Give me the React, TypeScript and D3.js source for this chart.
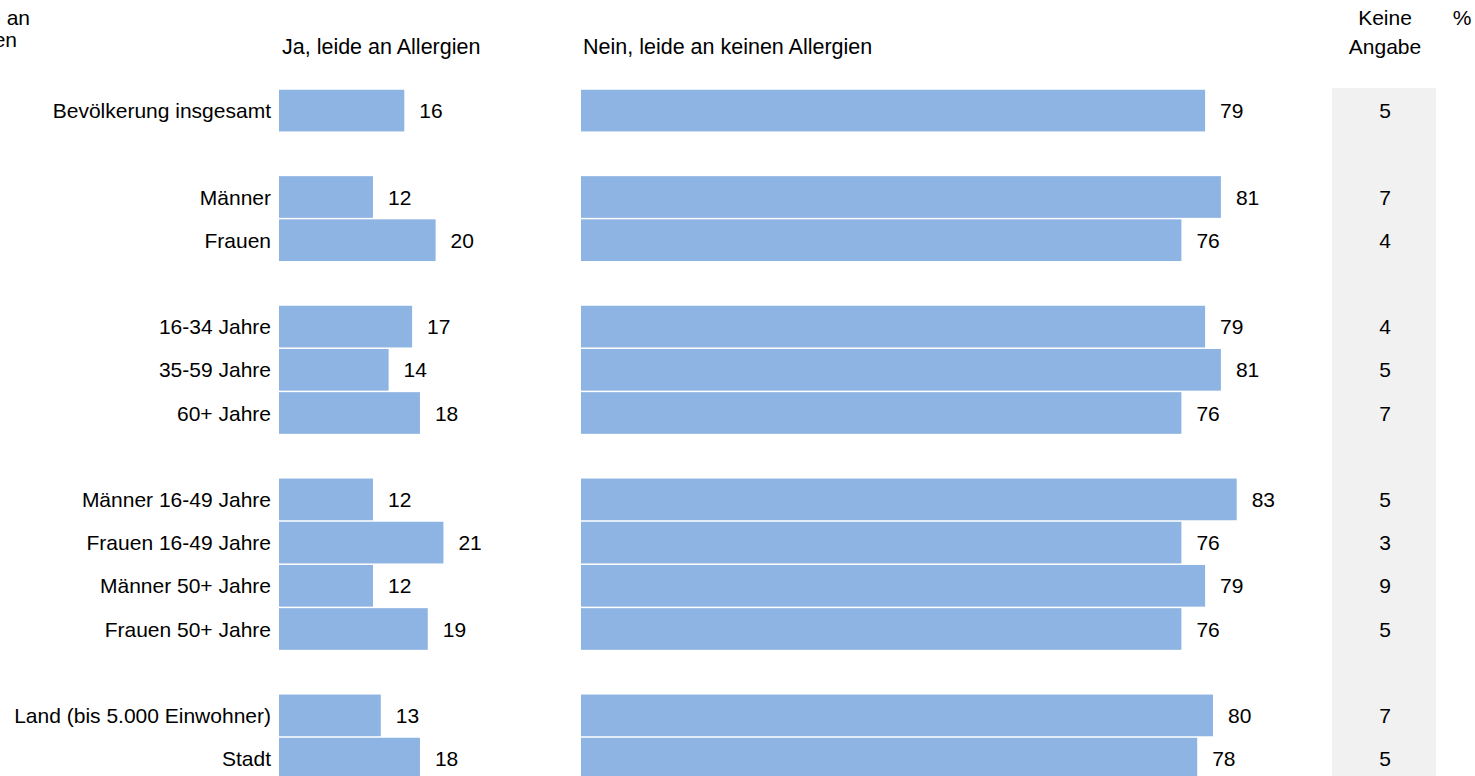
import React from "react";
import * as d3 from "d3";

// groups of rows, an empty slot is left between groups
const groups: string[][] = [
  ["Bevölkerung insgesamt"],
  ["Männer", "Frauen"],
  ["16-34 Jahre", "35-59 Jahre", "60+ Jahre"],
  ["Männer 16-49 Jahre", "Frauen 16-49 Jahre", "Männer 50+ Jahre", "Frauen 50+ Jahre"],
  ["Land (bis 5.000 Einwohner)", "Stadt"],
];
const jaValues = [16, 12, 20, 17, 14, 18, 12, 21, 12, 19, 13, 18];
const neinValues = [79, 81, 76, 79, 81, 76, 83, 76, 79, 76, 80, 78];
const keineValues = [5, 7, 4, 4, 5, 7, 5, 3, 9, 5, 7, 5];

const jaTitle = "Ja, leide an Allergien";
const neinTitle = "Nein, leide an keinen Allergien";
const keineTitle = ["Keine", "Angabe"];
const cornerTitle = ["Leiden Sie an", "Allergien"];

const W = 1475;
const H = 776;
const font = "'Liberation Sans', Arial, sans-serif";
const barColor = "#8EB4E3";

export default function App() {
  // build rows with slot index
  const rows: { label: string; slot: number }[] = [];
  let slot = 0;
  groups.forEach((g, gi) => {
    g.forEach((label) => {
      rows.push({ label, slot });
      slot++;
    });
    if (gi < groups.length - 1) slot++;
  });
  const nSlots = slot;

  const y = d3
    .scaleBand<number>()
    .domain(d3.range(nSlots))
    .range([89, 89 + nSlots * 43.2])
    .paddingInner(0.035)
    .paddingOuter(0.0175);

  const xJa = d3.scaleLinear().domain([0, 100]).range([279, 1062]);
  const xNein = d3.scaleLinear().domain([0, 100]).range([581, 1371]);
  const bw = y.bandwidth();

  return (
    <svg
      width={W}
      height={H}
      style={{ position: "absolute", left: 0, top: 0 }}
      fontFamily={font}
      fontSize={21}
    >
      <rect x={0} y={0} width={W} height={H} fill="#fff" />

      {/* corner title (cut off at left, as in the source) */}
      <text x={30} y={25} textAnchor="end">
        {cornerTitle[0]}
      </text>
      <text x={17} y={47} textAnchor="end">
        {cornerTitle[1]}
      </text>

      {/* column headers */}
      <text x={xJa(0) + 3} y={54} fontSize={21.5}>
        {jaTitle}
      </text>
      <text x={xNein(0) + 2} y={54} fontSize={21.5}>
        {neinTitle}
      </text>
      <text x={1385} y={25} textAnchor="middle">
        {keineTitle[0]}
      </text>
      <text x={1385} y={54} textAnchor="middle">
        {keineTitle[1]}
      </text>
      <text x={1462} y={25} textAnchor="middle">
        %
      </text>

      {/* keine angabe background */}
      <rect x={1332} y={88} width={104} height={H - 88} fill="#F1F1F1" />

      {rows.map((r, i) => {
        const y0 = y(r.slot)!;
        const cy = y0 + bw / 2 + 2;
        return (
          <g key={i}>
            <text x={271} y={cy} textAnchor="end" dominantBaseline="middle">
              {r.label}
            </text>
            <rect
              x={xJa(0)}
              y={y0}
              width={xJa(jaValues[i]) - xJa(0)}
              height={bw}
              fill={barColor}
            />
            <text x={xJa(jaValues[i]) + 15} y={cy} dominantBaseline="middle">
              {jaValues[i]}
            </text>
            <rect
              x={xNein(0)}
              y={y0}
              width={xNein(neinValues[i]) - xNein(0)}
              height={bw}
              fill={barColor}
            />
            <text x={xNein(neinValues[i]) + 15} y={cy} dominantBaseline="middle">
              {neinValues[i]}
            </text>
            <text x={1385} y={cy} textAnchor="middle" dominantBaseline="middle">
              {keineValues[i]}
            </text>
          </g>
        );
      })}
    </svg>
  );
}
